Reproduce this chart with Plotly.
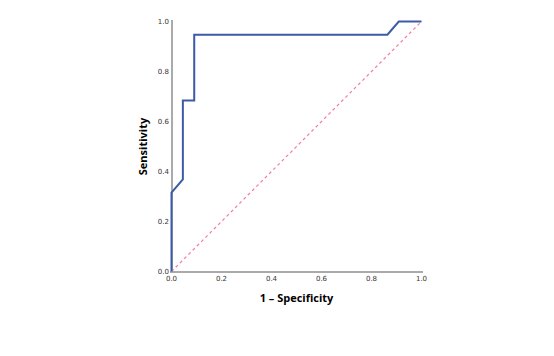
import plotly.graph_objects as go

# ROC curve points (1 - specificity, sensitivity)
fpr = [0, 0, 1/22, 1/22, 2/22, 2/22, 19/22, 20/22, 1.0]
tpr = [0, 6/19, 7/19, 13/19, 13/19, 18/19, 18/19, 1.0, 1.0]
ref_x = [0, 1]
ref_y = [0, 1]
tick_vals = [0.0, 0.2, 0.4, 0.6, 0.8, 1.0]
tick_text = ["0.0", "0.2", "0.4", "0.6", "0.8", "1.0"]

fig = go.Figure()
fig.add_trace(go.Scatter(x=ref_x, y=ref_y, mode="lines",
                         line=dict(color="#f27d96", width=1.2, dash="dot"),
                         hoverinfo="skip", showlegend=False))
fig.add_trace(go.Scatter(x=fpr, y=tpr, mode="lines",
                         line=dict(color="#3c5aa6", width=2),
                         showlegend=False))

axis_common = dict(range=[-0.006, 1.006], showgrid=False,
                   zeroline=True, zerolinecolor="#aaaaaa", zerolinewidth=1.5,
                   showline=False,
                   ticks="", tickvals=tick_vals, ticktext=tick_text,
                   automargin=False, layer="below traces",
                   tickfont=dict(family="DejaVu Sans", size=7, color="#333333"))

fig.update_layout(
    width=554, height=356,
    margin=dict(l=162, r=139, t=12, b=91, autoexpand=False),
    paper_bgcolor="white", plot_bgcolor="white",
    xaxis=dict(**axis_common,
               title=dict(text="1 \u2013 Specificity",
                          font=dict(family="Open Sans", size=11, color="black", weight="bold"),
                          standoff=12)),
    yaxis=dict(**axis_common,
               title=dict(text="Sensitivity",
                          font=dict(family="Open Sans", size=11, color="black", weight="bold"),
                          standoff=8)),
)
fig.write_html("out.html")
